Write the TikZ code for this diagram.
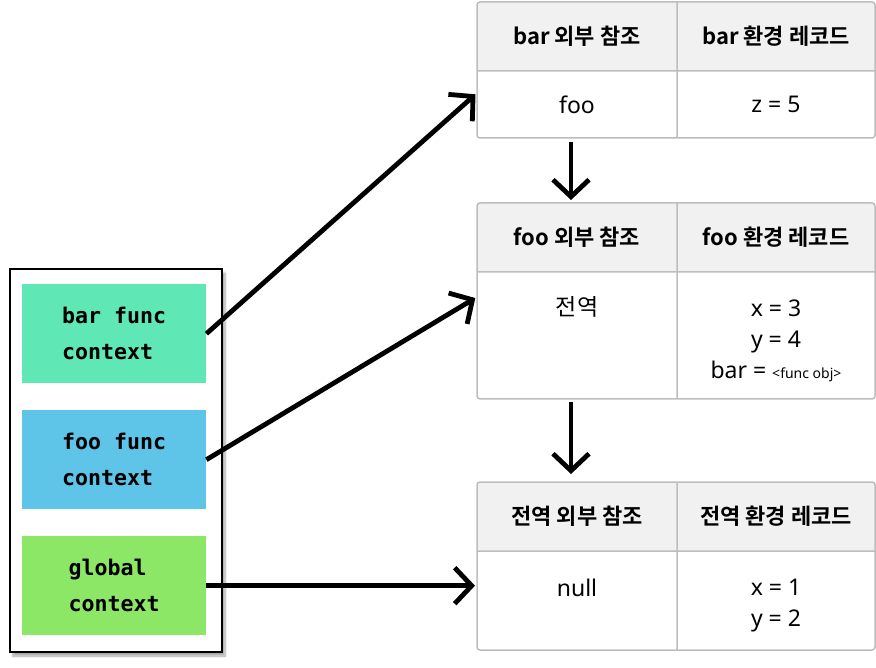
\documentclass[tikz,border=0pt]{standalone}
\usepackage{fontspec}
\setmainfont{Noto Sans}
\newfontfamily\kr{Noto Sans CJK KR}[BoldFont={Noto Sans CJK KR Bold}]
\newfontfamily\codefont{DejaVu Sans Mono}
\usetikzlibrary{
  arrows.meta,
  positioning,
  shadows.blur
}
\definecolor{barcol}{HTML}{5FE8B6}
\definecolor{foocol}{HTML}{5EC5E8}
\definecolor{globcol}{HTML}{8DE766}
\definecolor{headfill}{HTML}{F1F1F1}
\definecolor{gridline}{HTML}{BDBDBD}
\tikzset{
  cell/.style={
    inner sep=0pt,
    outer sep=0pt,
    align=center,
    font=\fontsize{23}{31}\selectfont
  },
  headcell/.style={
    cell,
    fill=headfill,
    minimum height=69pt,
    font=\kr\bfseries\fontsize{22}{26}\selectfont
  },
  grid/.style={
    draw=gridline,
    line width=1.5pt,
    rounded corners=3pt
  },
  context/.style={
    minimum width=184pt,
    minimum height=99pt,
    align=left,
    font=\codefont\bfseries\fontsize{21.6}{36}\selectfont
  },
  link/.style={
    line width=4.8pt,
    -{Straight Barb[length=17pt,width=36pt]}
  }
}

\begin{document}
\begin{tikzpicture}[x=1pt,y=-1pt]
  \useasboundingbox (0,0) rectangle (876,668);
  \node[draw, line width=2pt, fill=white, minimum width=212pt, minimum height=383pt, anchor=north west,
    blur shadow={shadow xshift=3pt, shadow yshift=-4pt, shadow opacity=35, shadow blur steps=8}] (stack) at (9,268) {};
  \node[context, fill=barcol, anchor=north west] (barctx) at (22,284) {bar func\\context};
  \node[context, fill=foocol, anchor=north west] (fooctx) at (22,410) {foo func\\context};
  \node[context, fill=globcol, anchor=north west] (globctx) at (22,536) {global\\context};

  \node[headcell, minimum width=200pt, anchor=north west] (barrefhead) at (477,2) {bar 외부 참조};
  \node[headcell, minimum width=198pt, right=0pt of barrefhead] (barenvhead) {bar 환경 레코드};
  \node[cell, minimum width=200pt, minimum height=67pt, below=0pt of barrefhead] (barref) {foo};
  \node[cell, minimum width=198pt, minimum height=67pt, below=0pt of barenvhead] (barenv) {z = 5};

  \node[headcell, minimum width=200pt, anchor=north west] (foorefhead) at (477,203) {foo 외부 참조};
  \node[headcell, minimum width=198pt, right=0pt of foorefhead] (fooenvhead) {foo 환경 레코드};
  \node[cell, minimum width=200pt, text height=44pt, text depth=83pt, below=0pt of foorefhead] (fooref) {\kr 전역};
  \node[cell, minimum width=198pt, text height=106pt, text depth=21pt, below=0pt of fooenvhead] (fooenv)
    {x = 3\\y = 4\\bar = {\fontsize{14}{14}\selectfont <func obj>}};

  \node[headcell, minimum width=200pt, anchor=north west] (globrefhead) at (477,482) {전역 외부 참조};
  \node[headcell, minimum width=198pt, right=0pt of globrefhead] (globenvhead) {전역 환경 레코드};
  \node[cell, minimum width=200pt, text height=45pt, text depth=54pt, below=0pt of globrefhead] (globref) {null};
  \node[cell, minimum width=198pt, text height=75pt, text depth=24pt, below=0pt of globenvhead] (globenv) {x = 1\\y = 2};

  \foreach \t in {bar,foo,glob}
    \draw[grid] (\t refhead.north west) rectangle (\t env.south east)
      (\t refhead.south west) -- (\t envhead.south east)
      (\t refhead.north east) -- (\t ref.south east);

  \draw[link, shorten >=2pt] (barctx.east) -- ([yshift=-22pt]barref.north west);
  \draw[link, shorten >=2pt] (fooctx.east) -- ([yshift=-25pt]fooref.north west);
  \draw[link, shorten >=2pt] (globctx.east) -- (globctx.east -| globref.west);
  \draw[link, shorten <=4pt, shorten >=3pt] ([xshift=-6pt]barref.south) -- ([xshift=-6pt]foorefhead.north);
  \draw[link, shorten <=3pt, shorten >=8pt] ([xshift=-6pt]fooref.south) -- ([xshift=-6pt]globrefhead.north);
\end{tikzpicture}
\end{document}
